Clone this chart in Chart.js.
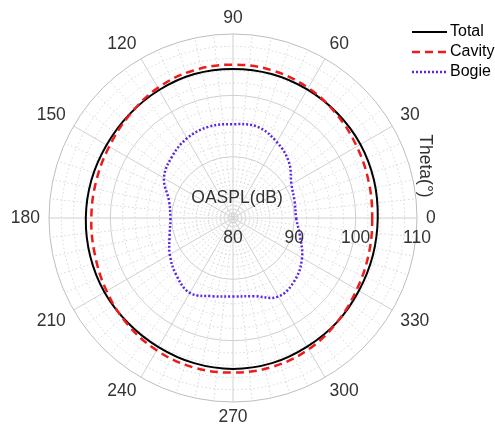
<!DOCTYPE html>
<html>
<head>
<meta charset="utf-8">
<script src="https://cdn.jsdelivr.net/npm/chart.js@4.4.1/dist/chart.umd.min.js"></script>
<style>
  body { margin: 0; background: #fff; }
  canvas { display: block; }
</style>
</head>
<body>
<canvas id="polar" width="495" height="432"></canvas>
<script>
// directivity samples, theta in degrees (counter-clockwise from the right)
const thetas = [0, 15, 30, 45, 60, 75, 90, 105, 120, 135, 150, 165,
                180, 195, 210, 225, 240, 255, 270, 285, 300, 315, 330, 345];
const totalDb = [103.6, 103.8, 104.0, 104.1, 104.2, 104.3, 104.3, 104.3, 104.1, 103.9, 103.8, 103.9,
                 104.0, 104.1, 104.2, 104.2, 104.3, 104.5, 104.6, 104.5, 104.2, 104.0, 103.7, 103.6];
const cavityDb = [102.7, 102.9, 103.3, 103.9, 104.5, 104.9, 105.0, 104.9, 104.5, 103.8, 103.3, 103.1,
                  103.1, 103.3, 103.8, 104.4, 104.9, 105.2, 105.2, 105.1, 104.7, 104.0, 103.3, 102.9];
const bogieDb = [90.3, 90.4, 91.0, 92.9, 94.3, 95.4, 95.3, 95.4, 95.0, 94.1, 93.0, 90.8,
                 90.2, 90.7, 91.9, 93.1, 94.1, 93.2, 92.8, 93.2, 94.8, 94.3, 93.0, 91.3];

const angleTicks = [0, 30, 60, 90, 120, 150, 180, 210, 240, 270, 300, 330];
const radialTicks = [80, 90, 100, 110];
const seriesNames = ['Total', 'Cavity', 'Bogie'];
const seriesColors = ['#000000', '#ee1b1b', '#5a28e0'];
const seriesDash = [[], [8, 5], [2, 2]];

const FONT = '17.5px "Liberation Sans", Arial, sans-serif';

// radar spokes every 3 deg; chart.js goes clockwise so theta runs backwards
const STEP = 3;
const spokes = 360 / STEP;
const labels = Array.from({length: spokes}, (_, i) => (360 - i * STEP) % 360);

function onSpokes(values) {
    return labels.map(a => {
        const k = thetas.indexOf(a);
        return k >= 0 ? values[k] : null;
    });
}

const polarText = {
    id: 'polarText',
    afterDraw(chart) {
        const ctx = chart.ctx;
        const s = chart.scales.r;
        const xc = s.xCenter, yc = s.yCenter, R = s.drawingArea;
        ctx.save();
        ctx.font = FONT;
        ctx.fillStyle = '#333333';
        ctx.textAlign = 'center';
        ctx.textBaseline = 'middle';

        // theta labels around the rim
        angleTicks.forEach(a => {
            const rad = a * Math.PI / 180;
            const c = Math.cos(rad), sn = Math.sin(rad);
            const txt = String(a);
            const w = ctx.measureText(txt).width;
            const sx = Math.abs(c) < 0.01 ? 0 : Math.sign(c);
            const sy = Math.abs(sn) < 0.01 ? 0 : Math.sign(sn);
            const bx = xc + (R + 9) * c;
            const by = yc - (R + 9) * sn;
            ctx.fillText(txt, bx + sx * w / 2, by - sy * 6.5);
        });

        // r labels under the 0 deg spoke
        radialTicks.forEach(v => {
            ctx.fillText(String(v), xc + s.getDistanceFromCenterForValue(v), yc + 20);
        });

        ctx.fillText('OASPL(dB)', xc + 4, yc - 20);

        ctx.save();
        ctx.translate(xc + 192, yc - 52);
        ctx.rotate(Math.PI / 2);
        ctx.fillText('Theta(\u00b0)', 0, 0);
        ctx.restore();

        // legend
        ctx.font = '16px "Liberation Sans", Arial, sans-serif';
        ctx.fillStyle = '#000';
        ctx.textAlign = 'left';
        seriesNames.forEach((name, i) => {
            const y = 32 + i * 20;
            ctx.strokeStyle = seriesColors[i];
            ctx.lineWidth = i === 0 ? 2 : 2.5;
            ctx.setLineDash(seriesDash[i]);
            ctx.beginPath();
            ctx.moveTo(412, y);
            ctx.lineTo(447, y);
            ctx.stroke();
            ctx.fillText(name, 450, y);
        });
        ctx.restore();
    }
};

const datasets = [totalDb, cavityDb, bogieDb].map((vals, i) => ({
    label: seriesNames[i],
    data: onSpokes(vals),
    borderColor: seriesColors[i],
    borderWidth: i === 0 ? 2 : 2.5,
    borderDash: seriesDash[i],
    borderCapStyle: 'butt',
    fill: false,
    spanGaps: true,
    tension: 0.38,
    pointRadius: 0,
    order: 3 - i
}));

new Chart(document.getElementById('polar'), {
    type: 'radar',
    data: { labels: labels, datasets: datasets },
    options: {
        responsive: false,
        animation: false,
        events: [],
        layout: { padding: { left: 49, right: 77, top: 34, bottom: 29 } },
        plugins: {
            legend: { display: false },
            tooltip: { enabled: false }
        },
        scales: {
            r: {
                min: 80,
                max: 110,
                startAngle: 90,
                ticks: { display: false, stepSize: 2 },
                pointLabels: { display: false },
                grid: {
                    circular: true,
                    lineWidth: 1,
                    color: c => {
                        const v = c.tick ? c.tick.value : 0;
                        if (v === 110) return '#bdbdbd';
                        return v % 10 === 0 ? '#cfcfcf' : '#d6d6d6';
                    }
                },
                border: {
                    dash: c => (c.tick && c.tick.value % 10 !== 0) ? [1.5, 2.5] : []
                },
                angleLines: {
                    color: c => c.index % 10 === 0 ? '#d0d0d0' : '#d8d8d8',
                    lineWidth: c => c.index % 2 === 0 ? 1 : 0,
                    borderDash: c => c.index % 10 === 0 ? [] : [1.5, 2.5]
                }
            }
        }
    },
    plugins: [polarText]
});
</script>
</body>
</html>
